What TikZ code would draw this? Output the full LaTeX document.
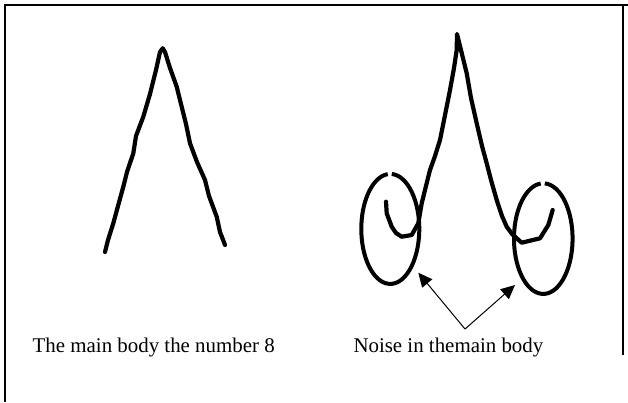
\documentclass[tikz,border=0pt]{standalone}
\usepackage{fontspec}
\setmainfont{Liberation Serif}
\usetikzlibrary{arrows.meta}
\begin{document}
\begin{tikzpicture}[x=1pt,y=-1pt,
  frameline/.style={line width=2.4pt,black},
  stroke/.style={line width=4.2pt,black,line join=round,line cap=round},
  loopring/.style={line width=4pt,black},
  pointer/.style={line width=1pt,black,-{Triangle[length=14pt,width=13pt]}},
  caption/.style={anchor=base west,inner sep=0pt,font=\fontsize{20.9}{24}\selectfont}]
\useasboundingbox (0,0) rectangle (628,402);
% frame
\draw[frameline] (5,402) -- (5,5) -- (628,5);
\draw[frameline] (623,5) -- (623,355);
% left figure: main body
\draw[stroke] (105,252) -- (108,240) -- (113.3,223.3) -- (118,206) -- (123.3,186.7) -- (127,172) -- (133.3,153.3) -- (136,136) -- (143.3,116.7) -- (150,94) -- (156,70) -- (160,52) -- (162.7,48.3) -- (165,52) -- (170,68) -- (176.7,86.7) -- (181,104) -- (186,124) -- (190,143.3) -- (197,162) -- (205,180) -- (209,196) -- (216.7,216.7) -- (220,232) -- (225,245);
% right figure: body with noise
\draw[stroke] (386,201.7) -- (386.7,213.3) -- (391.7,226.7) -- (396,233) -- (401.7,236.7) -- (411.7,235) -- (418.3,223.3) -- (421.7,203.3) -- (426,186) -- (430,170) -- (435,156) -- (440,140) -- (445,115) -- (450,90) -- (454,68) -- (456.7,50) -- (457,34) -- (459,42) -- (466.7,73.3) -- (471,98) -- (476.7,123.3) -- (482,146) -- (486.7,163.3) -- (491,180) -- (496.7,200) -- (502,216) -- (506.7,226.7) -- (512,234) -- (516.7,238.3) -- (521.7,242.7) -- (540,238.3) -- (548.3,225) -- (552.7,210);
% noise rings (small gap at the top)
\draw[loopring] (391.8,174.0) arc[start angle=-87,end angle=265,x radius=29,y radius=55];
\draw[loopring] (544.8,183.4) arc[start angle=-87,end angle=265,x radius=29.3,y radius=55.3];
% captions
\node[caption] (mainlbl) at (32.5,352) {The main body the number 8};
\node[caption] (noiselbl) at (353.3,352) {Noise in themain body};
% pointers
\coordinate (fork) at (465,329);
\coordinate (lefttip) at (418.3,272.7);
\coordinate (righttip) at (515,285);
\draw[pointer] (fork) -- (lefttip);
\draw[pointer] (fork) -- (righttip);
\end{tikzpicture}
\end{document}
